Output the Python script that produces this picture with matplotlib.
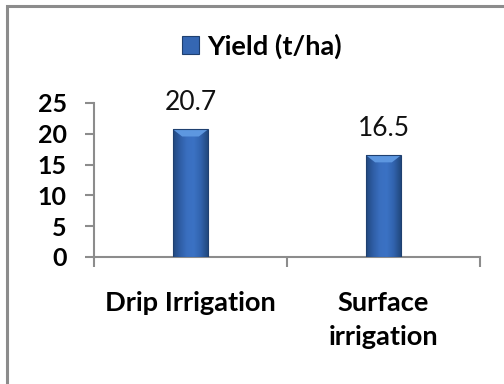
import numpy as np
import matplotlib
matplotlib.use("Agg")
import matplotlib.pyplot as plt
from matplotlib.patches import Rectangle, Polygon
from matplotlib.colors import LinearSegmentedColormap

# Data
categories = ["Drip Irrigation", "Surface\nirrigation"]
yield_t_ha = [20.7, 16.5]
series_name = "Yield (t/ha)"
y_ticks = [0, 5, 10, 15, 20, 25]

plt.rcParams["font.family"] = ["Lato", "DejaVu Sans"]

W, H, DPI = 504, 384, 100
fig = plt.figure(figsize=(W / DPI, H / DPI), dpi=DPI)
fig.patch.set_facecolor("white")

# Outer chart frame (extends past the right and bottom edges)
fig.patches.append(Rectangle((7 / W, -0.1), 1.2, (H - 6) / H + 0.1,
                             transform=fig.transFigure, fill=False,
                             edgecolor="#8c8c8c", linewidth=2.2, zorder=0))

ax = fig.add_axes([94 / W, (H - 257) / H, (480 - 94) / W, 154 / H])
x = np.arange(len(categories))
bar_w = 0.18
bars = ax.bar(x, yield_t_ha, width=bar_w, color="#3567b3", zorder=2)

ax.set_xlim(-0.5, len(categories) - 0.5)
ax.set_ylim(0, 25)
ax.set_yticks(y_ticks)
ax.set_xticks(x)
ax.set_xticklabels(categories, fontsize=19.6, fontweight="bold",
                   linespacing=1.5, va="top")
ax.set_xticks(np.arange(-0.5, len(categories)), minor=True)
ax.tick_params(axis="x", which="major", length=0, pad=24.5)
ax.tick_params(axis="x", which="minor", length=7.2, width=1.5,
               color="#8c8c8c", direction="out")
ax.tick_params(axis="y", length=6.5, width=1.5, color="#8c8c8c", pad=13,
               labelsize=18)
for lbl in ax.get_yticklabels():
    lbl.set_fontweight("bold")

for side in ("top", "right"):
    ax.spines[side].set_visible(False)
for side in ("left", "bottom"):
    ax.spines[side].set_color("#8c8c8c")
    ax.spines[side].set_linewidth(1.5)

# Shaded bar bodies with a bevelled top
shade = LinearSegmentedColormap.from_list(
    "shade", ["#22497f", "#2f5ea6", "#3a6fc0", "#3b72c4", "#3163ae", "#22497f"])
grad = np.linspace(0, 1, 64).reshape(1, -1)
px_x = 1.0 / (ax.transData.transform((1, 0))[0] - ax.transData.transform((0, 0))[0])
px_y = 1.0 / (ax.transData.transform((0, 1))[1] - ax.transData.transform((0, 0))[1])
for b in bars:
    x0, w, h = b.get_x(), b.get_width(), b.get_height()
    im = ax.imshow(grad, cmap=shade, aspect="auto", extent=(x0, x0 + w, 0, h),
                   zorder=3, interpolation="bicubic")
    im.set_clip_path(b)
    dx, dy = 9 * px_x, 7 * px_y
    ax.add_patch(Polygon([(x0, h), (x0 + w, h), (x0 + w - dx, h - dy),
                          (x0 + dx, h - dy)], closed=True,
                         facecolor="#5d97e0", edgecolor="none", zorder=4))
    ax.add_patch(Rectangle((x0, 0), w, h, fill=False, edgecolor="#1f4070",
                           linewidth=0.8, zorder=5))
    ax.text(x0 + w / 2, h + 2.3, f"{h:.1f}", ha="center", va="bottom",
            fontsize=19, color="#111111", zorder=6)

ax.set_xlim(-0.5, len(categories) - 0.5)

leg = fig.legend([Rectangle((0, 0), 1, 1, facecolor="#3567b3",
                            edgecolor="#1f4070", linewidth=0.8)],
                 [series_name], loc="center",
                 bbox_to_anchor=(262 / W, (H - 46) / H),
                 frameon=False, prop={"size": 19.6, "weight": "bold"},
                 handlelength=0.65, handleheight=0.65, handletextpad=0.3)

fig.savefig("out.png", dpi=DPI, facecolor="white")
